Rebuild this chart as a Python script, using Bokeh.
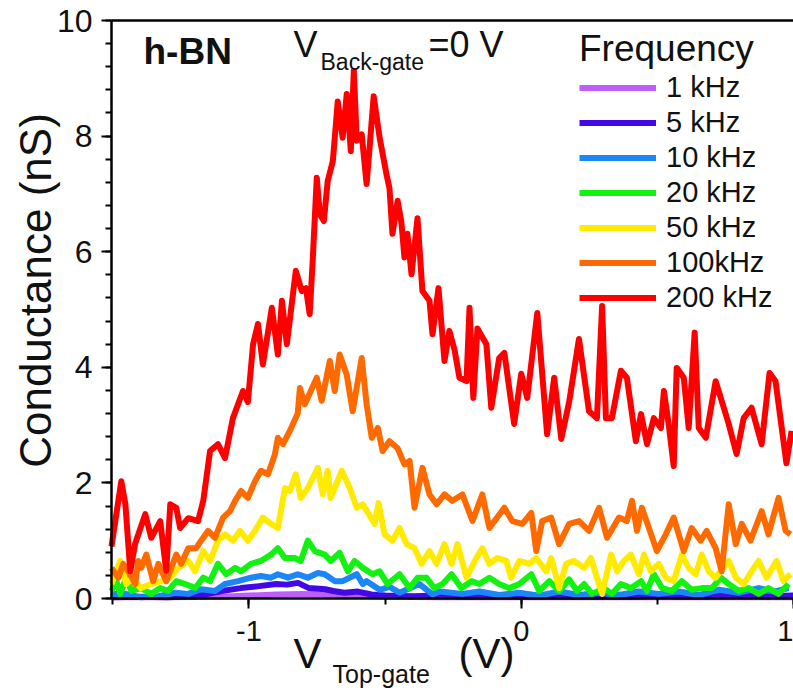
import math
from bokeh.plotting import figure
from bokeh.models import (Range1d, Label, Legend, LegendItem, LinearAxis,
                          SingleIntervalTicker, FixedTicker)
from bokeh.embed import file_html
from bokeh.resources import INLINE

FONT = "Liberation Sans"

# ---------------- data ----------------
series_names = ["1 kHz", "5 kHz", "10 kHz", "20 kHz", "50 kHz", "100kHz", "200 kHz"]
series_colors = ["#BE5EFA", "#4308E6", "#1B86F5", "#11F211", "#FFEA00", "#FF6A00", "#FF0000"]

x_1k = [-1.505, -1.3, -1.1, -1.0, -0.9, -0.8, -0.7, -0.6, -0.5, -0.3, 0.0, 0.3, 0.6, 1.0]
y_1k = [0.02, 0.02, 0.03, 0.05, 0.07, 0.08, 0.07, 0.05, 0.03, 0.02, 0.02, 0.02, 0.02, 0.02]

x_5k = [-1.505, -1.40, -1.30, -1.20, -1.15, -1.10, -1.03, -0.97, -0.90, -0.86, -0.82, -0.78,
        -0.72, -0.69, -0.65, -0.60, -0.55, -0.50, -0.40, -0.30, -0.20, -0.10, 0.0, 0.1, 0.2,
        0.3, 0.4, 0.5, 0.6, 0.7, 0.8, 0.9, 1.0]
y_5k = [0.02, 0.03, 0.02, 0.04, 0.08, 0.13, 0.18, 0.21, 0.25, 0.24, 0.27, 0.18,
        0.16, 0.13, 0.10, 0.12, 0.07, 0.05, 0.04, 0.05, 0.03, 0.04, 0.03, 0.04, 0.03,
        0.04, 0.03, 0.05, 0.03, 0.04, 0.05, 0.04, 0.05]

x_10k = [-1.505, -1.454, -1.396, -1.333, -1.271, -1.223, -1.176, -1.125, -1.088, -1.040,
         -0.993, -0.956, -0.919, -0.894, -0.857, -0.821, -0.784, -0.747, -0.722, -0.703,
         -0.685, -0.656, -0.604, -0.582, -0.568, -0.520, -0.484, -0.447, -0.374, -0.326,
         -0.300, -0.216, -0.154, -0.081, -0.007, 0.066, 0.139, 0.212, 0.286, 0.359, 0.432,
         0.505, 0.579, 0.652, 0.725, 0.799, 0.872, 0.927, 0.982]
y_10k = [0.08, 0.08, 0.02, 0.04, 0.10, 0.08, 0.16, 0.13, 0.25, 0.30,
         0.36, 0.39, 0.36, 0.42, 0.36, 0.42, 0.36, 0.44, 0.42, 0.36,
         0.30, 0.30, 0.42, 0.25, 0.30, 0.15, 0.20, 0.10, 0.25, 0.07,
         0.12, 0.08, 0.12, 0.06, 0.10, 0.05, 0.12, 0.06, 0.10, 0.06, 0.12,
         0.08, 0.12, 0.06, 0.15, 0.10, 0.18, 0.12, 0.18]

x_20k = [-1.505, -1.487, -1.473, -1.451, -1.432, -1.396, -1.359, -1.326, -1.297, -1.267,
         -1.234, -1.198, -1.168, -1.143, -1.114, -1.084, -1.051, -1.029, -0.993, -0.956,
         -0.919, -0.894, -0.868, -0.832, -0.810, -0.784, -0.758, -0.722, -0.700, -0.667,
         -0.637, -0.612, -0.582, -0.546, -0.520, -0.491, -0.447, -0.410, -0.381, -0.348,
         -0.319, -0.289, -0.256, -0.220, -0.183, -0.154, -0.117, -0.081, -0.044, -0.007,
         0.037, 0.066, 0.103, 0.139, 0.176, 0.205, 0.231, 0.260, 0.304, 0.333,
         0.366, 0.403, 0.440, 0.462, 0.487, 0.517, 0.553, 0.590, 0.626, 0.663,
         0.700, 0.733, 0.762, 0.799, 0.835, 0.872, 0.908, 0.945, 0.982]
y_20k = [0.13, 0.30, 0.08, 0.36, 0.13, 0.18, 0.08, 0.18, 0.13, 0.30,
         0.25, 0.18, 0.36, 0.30, 0.60, 0.42, 0.53, 0.47, 0.60, 0.65,
         0.76, 0.87, 0.70, 0.70, 0.65, 1.00, 0.82, 0.76, 0.65, 0.79,
         0.47, 0.65, 0.53, 0.42, 0.47, 0.25, 0.42, 0.18, 0.36, 0.36,
         0.18, 0.25, 0.42, 0.18, 0.30, 0.25, 0.36, 0.25, 0.18, 0.25,
         0.42, 0.13, 0.30, 0.13, 0.33, 0.13, 0.25, 0.08, 0.18, 0.08,
         0.25, 0.18, 0.30, 0.13, 0.42, 0.18, 0.13, 0.30, 0.15, 0.18,
         0.18, 0.36, 0.25, 0.13, 0.18, 0.08, 0.18, 0.08, 0.25]

x_50k = [-1.505, -1.473, -1.451, -1.425, -1.399, -1.359, -1.322, -1.289, -1.260, -1.223,
         -1.198, -1.168, -1.143, -1.114, -1.088, -1.059, -1.033, -1.004, -0.978, -0.949,
         -0.919, -0.894, -0.868, -0.850, -0.828, -0.810, -0.784, -0.747, -0.729, -0.711,
         -0.700, -0.659, -0.630, -0.604, -0.582, -0.538, -0.524, -0.502, -0.473, -0.447,
         -0.421, -0.392, -0.366, -0.337, -0.311, -0.282, -0.256, -0.234, -0.201, -0.165,
         -0.143, -0.117, -0.088, -0.055, -0.037, -0.007, 0.029, 0.055, 0.092, 0.110,
         0.139, 0.165, 0.194, 0.231, 0.256, 0.278, 0.297, 0.330, 0.352, 0.377,
         0.403, 0.432, 0.451, 0.476, 0.505, 0.531, 0.560, 0.590, 0.615, 0.641,
         0.663, 0.689, 0.714, 0.762, 0.788, 0.817, 0.846, 0.872, 0.901, 0.938,
         0.963, 0.989]
y_50k = [0.25, 0.65, 0.25, 0.36, 0.18, 0.25, 0.30, 0.36, 0.53, 0.65,
         0.47, 0.82, 0.65, 1.00, 1.11, 1.00, 1.17, 1.00, 1.17, 1.40,
         1.29, 1.22, 1.91, 1.86, 2.15, 1.74, 1.91, 2.26, 1.80, 2.21,
         1.74, 2.21, 1.91, 1.57, 1.63, 1.29, 1.65, 1.11, 1.00, 1.22,
         0.94, 0.87, 0.60, 0.82, 0.60, 0.94, 0.60, 0.94, 0.36, 0.70,
         0.87, 0.60, 0.70, 0.65, 0.36, 0.65, 0.60, 0.70, 0.47, 0.70,
         0.18, 0.60, 0.65, 0.53, 0.70, 0.36, 0.08, 0.76, 0.47, 0.65,
         0.76, 0.42, 0.76, 0.47, 0.60, 0.36, 0.30, 0.76, 0.53, 0.42,
         0.76, 0.47, 0.36, 0.65, 0.36, 0.25, 0.47, 0.65, 0.36, 0.65,
         0.30, 0.42]

x_100k = [-1.505, -1.480, -1.462, -1.436, -1.418, -1.407, -1.396, -1.377, -1.352, -1.333,
          -1.304, -1.267, -1.249, -1.223, -1.194, -1.176, -1.150, -1.125, -1.095, -1.070,
          -1.051, -1.029, -1.004, -0.978, -0.956, -0.930, -0.905, -0.894, -0.875, -0.850,
          -0.821, -0.813, -0.795, -0.751, -0.733, -0.703, -0.685, -0.667, -0.641, -0.619,
          -0.586, -0.568, -0.549, -0.527, -0.509, -0.484, -0.454, -0.429, -0.410, -0.392,
          -0.363, -0.337, -0.311, -0.282, -0.253, -0.216, -0.179, -0.143, -0.117, -0.062,
          -0.033, 0.004, 0.037, 0.055, 0.077, 0.110, 0.139, 0.176, 0.212, 0.249,
          0.286, 0.315, 0.359, 0.388, 0.407, 0.425, 0.443, 0.469, 0.498, 0.531,
          0.560, 0.597, 0.626, 0.659, 0.681, 0.714, 0.736, 0.762, 0.788, 0.810,
          0.842, 0.883, 0.908, 0.945, 0.971, 0.989]
y_100k = [0.53, 0.36, 0.60, 0.42, 0.25, 0.65, 0.53, 0.76, 0.30, 0.60,
          0.30, 0.76, 0.60, 0.87, 0.87, 1.00, 1.17, 1.05, 1.40, 1.51,
          1.69, 1.86, 1.74, 2.03, 2.21, 2.15, 2.49, 2.78, 2.67, 2.90,
          3.20, 3.64, 3.36, 3.82, 3.42, 4.11, 3.59, 4.22, 3.87, 3.24,
          4.16, 3.36, 2.78, 2.95, 2.55, 2.72, 2.60, 2.32, 2.38, 1.57,
          2.26, 1.80, 1.63, 1.80, 1.69, 1.80, 1.34, 1.80, 1.22, 1.57,
          1.34, 1.29, 1.48, 0.82, 1.34, 1.40, 0.94, 1.29, 1.34, 1.17,
          1.57, 1.05, 1.40, 1.34, 1.69, 1.17, 1.57, 1.22, 0.82, 1.11,
          1.40, 0.82, 1.22, 1.00, 1.17, 0.87, 0.47, 1.63, 0.94, 1.29,
          1.00, 1.51, 1.11, 1.74, 1.17, 1.11]

x_200k = [-1.505, -1.469, -1.454, -1.436, -1.418, -1.381, -1.359, -1.326, -1.304, -1.289,
          -1.267, -1.253, -1.223, -1.187, -1.168, -1.143, -1.114, -1.088, -1.059, -1.022,
          -1.004, -0.985, -0.967, -0.949, -0.916, -0.894, -0.879, -0.861, -0.828, -0.806,
          -0.791, -0.777, -0.766, -0.751, -0.740, -0.725, -0.711, -0.692, -0.674, -0.656,
          -0.641, -0.626, -0.615, -0.604, -0.586, -0.568, -0.557, -0.542, -0.520, -0.495,
          -0.484, -0.473, -0.454, -0.440, -0.429, -0.418, -0.403, -0.381, -0.363, -0.337,
          -0.326, -0.304, -0.282, -0.264, -0.245, -0.227, -0.201, -0.190, -0.176, -0.161,
          -0.128, -0.110, -0.081, -0.062, -0.026, 0.000, 0.022, 0.059, 0.095, 0.121,
          0.147, 0.176, 0.212, 0.249, 0.278, 0.297, 0.311, 0.333, 0.366, 0.388,
          0.421, 0.440, 0.462, 0.487, 0.513, 0.524, 0.542, 0.560, 0.571, 0.597,
          0.615, 0.637, 0.652, 0.678, 0.714, 0.762, 0.791, 0.817, 0.846, 0.883,
          0.912, 0.934, 0.952, 0.974, 0.993]
y_200k = [0.90, 2.03, 1.63, 0.47, 0.95, 1.46, 1.05, 1.34, 0.48, 1.63,
          1.57, 1.22, 1.39, 1.34, 1.69, 2.55, 2.67, 2.43, 3.12, 3.59,
          3.40, 4.40, 4.75, 4.05, 5.03, 4.22, 5.15, 4.40, 5.67, 5.32,
          5.37, 4.92, 5.84, 7.28, 6.65, 6.53, 7.22, 7.57, 8.60, 7.97,
          8.73, 7.74, 9.13, 7.92, 8.03, 7.17, 7.80, 8.69, 7.97, 7.34,
          7.10, 6.31, 6.88, 6.50, 5.90, 6.31, 5.61, 6.58, 5.32, 5.15,
          4.57, 5.37, 4.11, 4.63, 4.30, 3.82, 3.76, 5.03, 3.47, 4.67,
          4.40, 3.30, 4.16, 4.25, 3.02, 3.89, 3.47, 4.94, 2.84, 3.82,
          2.76, 3.40, 4.49, 3.24, 3.12, 5.06, 3.12, 3.12, 3.94, 3.82,
          2.72, 3.19, 2.67, 3.12, 2.95, 3.59, 3.00, 2.29, 3.99, 3.82,
          2.95, 4.60, 2.95, 2.78, 3.76, 3.02, 2.50, 3.12, 3.30, 2.67,
          3.90, 3.76, 3.12, 2.34, 2.90]

xs_all = [x_1k, x_5k, x_10k, x_20k, x_50k, x_100k, x_200k]
ys_all = [y_1k, y_5k, y_10k, y_20k, y_50k, y_100k, y_200k]
for a, b in zip(xs_all, ys_all):
    assert len(a) == len(b), (len(a), len(b))

# ---------------- geometry ----------------
W, H = 793, 694
X_START, X_END = -1.505, 1.0
Y_MIN, Y_MAX = 0, 10
LEFT, TOP, BOTTOM = 111, 20, 598          # pixel position of the axes box
sx_scale = (W - LEFT) / (X_END - X_START)
sy_scale = (BOTTOM - TOP) / (Y_MAX - Y_MIN)
x_lo = X_START - LEFT / sx_scale           # frame covers the whole canvas
y_lo = Y_MIN - (H - BOTTOM) / sy_scale
y_hi = Y_MAX + TOP / sy_scale

p = figure(width=W, height=H, output_backend="svg", toolbar_location=None,
           x_range=Range1d(x_lo, X_END), y_range=Range1d(y_lo, y_hi),
           min_border_left=0, min_border_right=0, min_border_top=0,
           min_border_bottom=0)
p.background_fill_color = "white"
p.border_fill_color = "white"
p.outline_line_color = None
p.xgrid.visible = False
p.ygrid.visible = False

xax = p.xaxis[0]
yax = p.yaxis[0]
xax.ticker = SingleIntervalTicker(interval=1, num_minor_ticks=2)
yax.ticker = SingleIntervalTicker(interval=2, num_minor_ticks=5)
xax.fixed_location = Y_MIN
yax.fixed_location = X_START
xax.bounds = (X_START, X_END)
yax.bounds = (Y_MIN, Y_MAX)
for ax in (xax, yax):
    ax.axis_line_width = 2.5
    ax.axis_line_color = "black"
    ax.major_tick_line_width = 2
    ax.minor_tick_line_width = 2
    ax.major_tick_in = 0
    ax.major_tick_out = 10
    ax.minor_tick_in = 0
    ax.minor_tick_out = 6
    ax.major_label_text_font = FONT
    ax.major_label_text_color = "#111111"

yax.major_label_text_font_size = "32px"
yax.major_label_standoff = 9
xax.major_label_text_font_size = "29px"
xax.major_label_standoff = 12
xax.major_label_overrides = {-1: "-1"}

top_axis = LinearAxis(ticker=FixedTicker(ticks=[]), axis_line_width=2.5,
                      axis_line_color="black", major_tick_line_color=None,
                      minor_tick_line_color=None, major_label_text_font_size="0px",
                      bounds=(X_START, X_END), fixed_location=Y_MAX)
p.add_layout(top_axis, "above")

renderers = []
for name, col, xs, ys in zip(series_names, series_colors, xs_all, ys_all):
    r = p.line(xs, ys, line_color=col, line_width=6, line_join="round")
    renderers.append(r)

legend = Legend(items=[LegendItem(label=n, renderers=[r]) for n, r in zip(series_names, renderers)],
                location=(579, 379), title="Frequency")
legend.title_text_font = FONT
legend.title_text_font_size = "37px"
legend.title_text_font_style = "normal"
legend.title_text_color = "#111111"
legend.title_standoff = -1
legend.label_text_font = FONT
legend.label_text_font_size = "29px"
legend.label_text_color = "#111111"
legend.glyph_width = 77
legend.glyph_height = 35
legend.label_height = 35
legend.label_standoff = 10
legend.spacing = 0
legend.padding = 0
legend.margin = 0
legend.border_line_color = None
legend.background_fill_alpha = 0
p.add_layout(legend)


def add_text(txt, px, py, size, style="normal", angle=0.0, align="left", baseline="alphabetic"):
    # px, py: position in canvas pixels from the top-left corner
    p.add_layout(Label(x=px, y=H - py, x_units="screen", y_units="screen", text=txt,
                       angle=angle, text_font=FONT, text_font_size=size,
                       text_font_style=style, text_color="#111111",
                       text_baseline=baseline, text_align=align))


# panel annotations
add_text("h-BN", 143, 51, "37px", "bold")
add_text("V", 293, 44, "36px")
add_text("Back-gate", 320, 61, "23px")
add_text("=0 V", 428, 44, "36px")

# axis titles
add_text("V", 293, 653, "42px")
add_text("Top-gate", 332, 673, "25px")
add_text("(V)", 458, 653, "42px")
add_text("Conductance (nS)", 35, 290, "44px", angle=math.pi / 2, align="center",
         baseline="middle")

open("out.html", "w").write(file_html(p, INLINE))
